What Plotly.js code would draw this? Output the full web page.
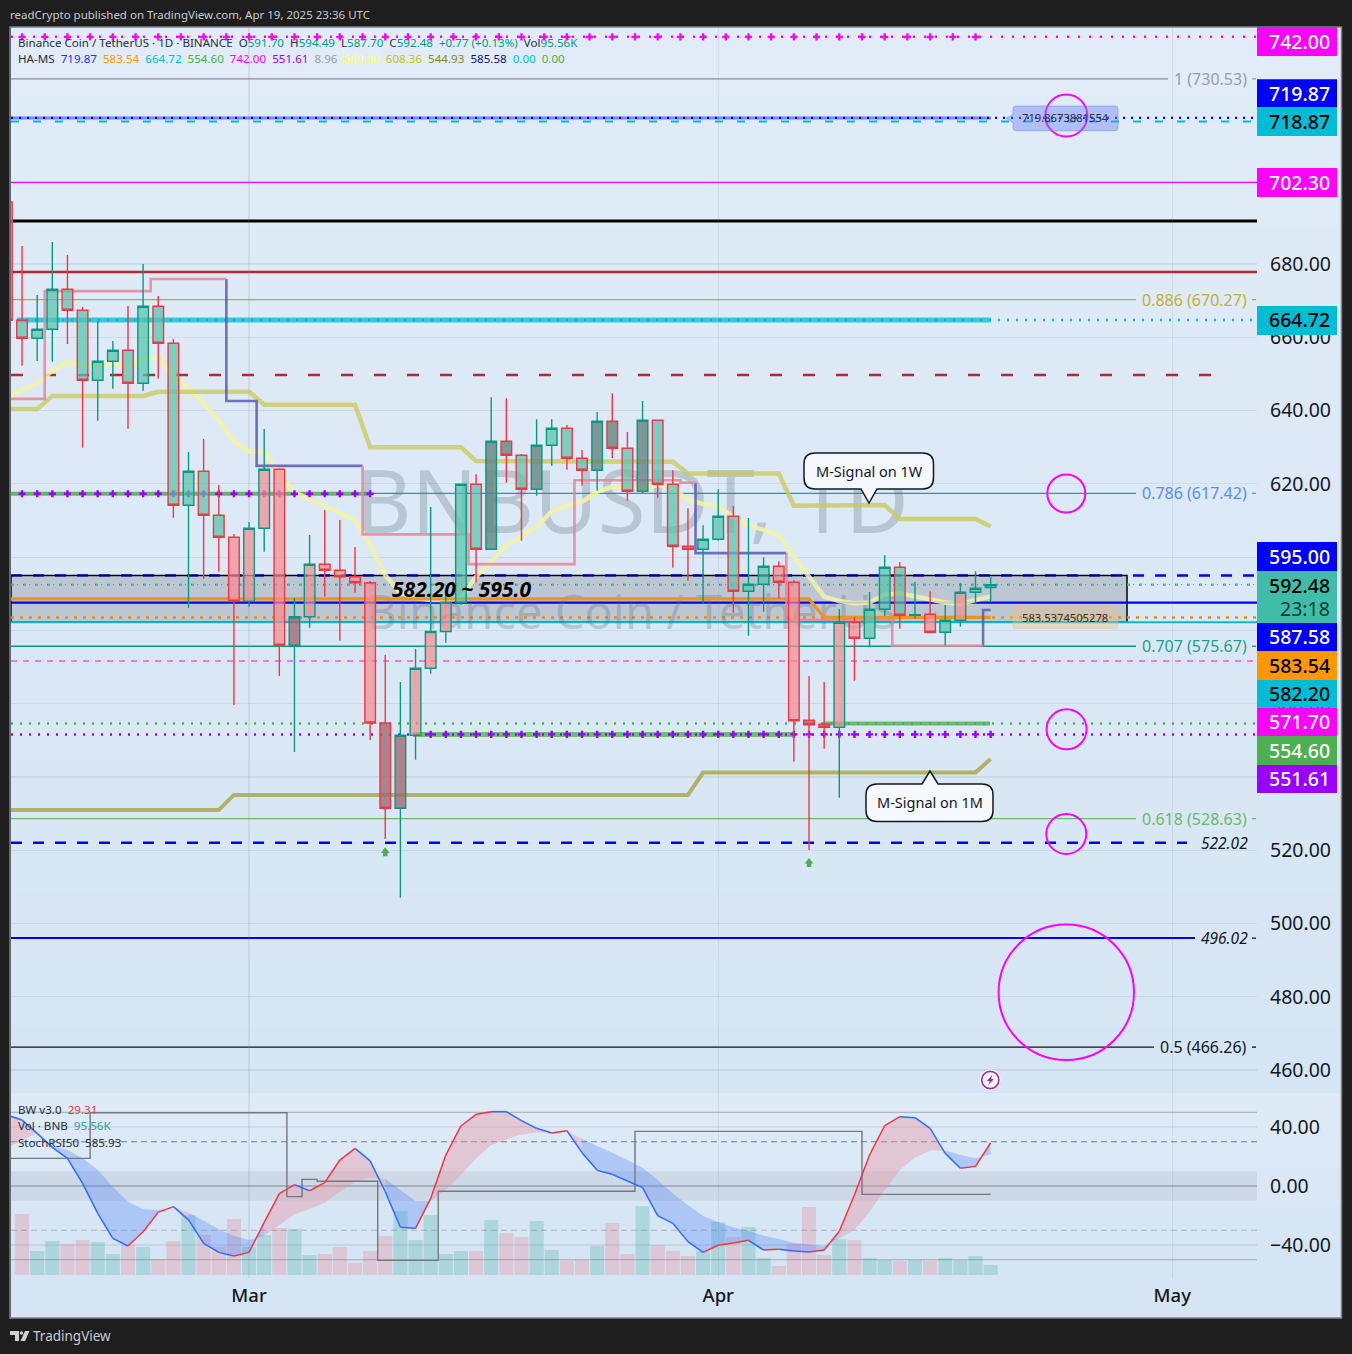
<!DOCTYPE html>
<html><head><meta charset="utf-8">
<script src="https://cdn.plot.ly/plotly-3.0.1.min.js"></script>
<style>html,body{margin:0;padding:0;background:#1e1e1e;}#c{width:1352px;height:1354px;}</style>
</head><body><div id="c"></div>
<script>
// ---------- data ----------
const dates=['2025-02-13','2025-02-14','2025-02-15','2025-02-16','2025-02-17','2025-02-18','2025-02-19','2025-02-20','2025-02-21','2025-02-22','2025-02-23','2025-02-24','2025-02-25','2025-02-26','2025-02-27','2025-02-28','2025-03-01','2025-03-02','2025-03-03','2025-03-04','2025-03-05','2025-03-06','2025-03-07','2025-03-08','2025-03-09','2025-03-10','2025-03-11','2025-03-12','2025-03-13','2025-03-14','2025-03-15','2025-03-16','2025-03-17','2025-03-18','2025-03-19','2025-03-20','2025-03-21','2025-03-22','2025-03-23','2025-03-24','2025-03-25','2025-03-26','2025-03-27','2025-03-28','2025-03-29','2025-03-30','2025-03-31','2025-04-01','2025-04-02','2025-04-03','2025-04-04','2025-04-05','2025-04-06','2025-04-07','2025-04-08','2025-04-09','2025-04-10','2025-04-11','2025-04-12','2025-04-13','2025-04-14','2025-04-15','2025-04-16','2025-04-17','2025-04-18','2025-04-19'];
const open=[696.92,664.63,659.72,662.18,673.10,667.36,648.26,653.44,656.45,647.44,668.46,658.36,614.14,623.42,611.41,605.41,587.94,607.87,623.97,575.93,583.74,598.04,596.40,594.65,593.02,554.73,531.44,551.37,569.65,579.70,587.67,619.87,602.13,631.61,627.79,618.51,630.52,635.16,626.97,623.70,637.07,629.70,617.96,637.34,619.87,602.95,602.13,604.86,611.14,590.67,592.58,597.49,593.13,555.46,554.37,553.55,582.21,577.84,585.76,597.22,584.12,584.39,579.48,582.75,590.40,591.70];
const close=[664.63,659.72,662.18,673.10,667.36,648.26,653.44,656.45,647.44,668.46,658.36,614.14,623.42,611.41,605.41,587.94,607.87,623.97,575.93,583.74,598.04,596.40,594.65,593.02,554.73,531.44,551.37,569.65,579.70,587.67,619.87,602.13,631.61,627.79,618.51,630.52,635.16,626.97,623.70,637.07,629.70,617.96,637.34,619.87,602.95,602.13,604.86,611.14,590.67,592.58,597.49,593.13,555.35,554.26,553.55,582.21,577.84,585.76,597.22,584.12,584.31,579.48,582.75,590.40,591.49,592.48];
const high=[700,684.91,671.54,686,682.46,668.26,664.44,658.98,668.54,680,671.27,659.53,628.69,632.24,619.68,606.31,609.58,634.97,624.24,588.84,606.04,612.86,610.13,602.76,593.48,573.29,565.92,574.92,613.68,589.93,620,622.6,643.62,643.35,628.14,637.61,637.61,636.06,629.24,639.61,644.71,634.15,642.61,637.5,623.7,613.32,608.68,618.51,613.95,610.68,599.95,598.86,593.67,567.55,565.92,585.84,583.57,590.48,600.5,598.67,593.21,590.67,586.93,592.85,596.13,594.49];
const low=[660,652.24,653.53,653.34,658.17,629.86,637.23,645.97,635.05,645.42,648.69,610.76,586.2,594.11,596.02,559.64,586.47,601.48,567.55,546.81,580.73,589.2,577.19,590.29,550.09,523.07,507.04,544.71,568.18,576.64,587,593.02,602.13,620.31,604.48,616.76,624.95,623.86,619.49,618.13,627.05,615.4,617.42,616.22,597.11,593.56,587.39,604.48,584.83,578.55,585.1,588.65,544.16,520.06,547.71,534.34,566.27,575.74,583.93,580.46,583.19,579.48,575.93,581.01,587.39,587.70];
// body fill class of each candle: T teal, P pink, D dark teal, M dark pink
const fillClass='PTTTTTTTTTTTTTTPPPPMPPPPPMMPPPTTDDTDTTTDDTDTTPTTTTTPPMPPPTTTTPTPTT'.split('');
const mSignal1D=[643.3,645.6,647.4,650.9,653.2,652.5,652.6,652.9,652.2,654.3,654.5,649.2,646.1,642,637.4,631.5,628.8,628.8,622.9,617.7,615.8,614,612,610.1,603.3,595.1,590.1,588.8,588.3,588.3,588.8,594.7,598.7,603.3,605.6,608.3,612.4,614.2,615.1,617.9,619.2,619,618.8,619.7,618.8,615.6,614.5,613.9,611,608.8,607.4,606,600.1,594.7,589.2,588,587.4,587.6,589.7,590.1,589.2,588.3,587.6,587.2,588.3,589.3];
const mSignal1W=[640.4,640.4,640.4,644,644,644,644,644,644,644,645.1,645.1,645.1,645.1,645.1,645.1,645.1,641.6,641.6,641.6,641.6,641.6,641.6,641.6,630,630,630,630,630,630,630,626.2,626.2,626.2,626.2,626.2,626.2,626.2,626.2,626.2,626.2,626.2,626.2,626.2,626,622.8,622.8,622.8,622.8,622.8,622.8,622.8,614,614,614,614,614,614,614.2,610.4,610.4,610.4,610.4,610.4,610.4,608.36];
const mSignal1MDates=['2025-02-13','2025-02-27','2025-02-28','2025-03-30','2025-03-31','2025-04-18','2025-04-19'];
const mSignal1M=[531,531,535.1,535.1,541.2,541.2,544.93];
const orangeDates=['2025-02-13','2025-04-07','2025-04-08','2025-04-19'];
const orangeLevel=[588.6,588.6,583.54,583.54];
const haPinkX=['2025-02-13','2025-02-15 12:00','2025-02-22 12:00','2025-02-27 12:00',null,'2025-03-08 12:00','2025-03-08 12:00','2025-03-15 12:00','2025-03-22 12:00','2025-03-29 12:00','2025-03-30 12:00',null,'2025-04-05 12:00','2025-04-05 12:00','2025-04-12 12:00','2025-04-18 12:00'];
const haPinkY=[643.2,672.6,675.9,675.9,null,624.9,606.2,598.1,621,620.3,620.3,null,601.1,582.9,575.8,575.8];
const haBlueX=['2025-02-27 12:00','2025-02-27 12:00','2025-03-01 12:00','2025-03-08 12:00',null,'2025-03-30 12:00','2025-03-30 12:00','2025-04-05 12:00',null,'2025-04-18 12:00','2025-04-18 12:00','2025-04-19'];
const haBlueY=[675.9,642.6,624.9,624.9,null,620.3,601.1,601.1,null,575.8,585.58,585.58];
const bw=[48.1,44.7,35.7,26.2,18.8,1.8,-18.5,-35.5,-40.7,-31,-17.9,-14,-23,-38.9,-45,-47.5,-45,-24.6,-5.2,.9,-3.2,2.3,17.6,25.5,17,-3.9,-28,-28.7,-8.4,21,40.7,48.6,50.4,50.4,44.3,39.1,35.9,37.5,22.6,10.6,7.9,3.4,-1.1,-20.1,-25.3,-37.7,-45,-40.2,-38.7,-36.8,-43.4,-42.95,-44.1,-44.8,-43.4,-30.7,-6.1,21,40.9,47,46.3,39.1,22.1,12,13.3,29.31];
const bwSignal=[25.5,31.2,35.7,27.1,24.4,18.8,10.8,-.5,-10.6,-15.8,-16.3,-14.5,-17.9,-23.5,-29.4,-33.7,-36.6,-33.7,-26.4,-19.2,-15.6,-11.3,-3.9,2.9,5.6,4.7,-2.7,-10.2,-10.2,-2.7,7.4,18.8,27.8,31.6,35,36.2,35.9,36.8,32.1,27.1,22.6,17.6,12.4,4,-5,-12.9,-20.3,-24.6,-28,-30.5,-33.7,-35.9,-38.4,-39.6,-40.7,-35.5,-29.8,-17.4,-2.7,10.8,19.2,24,24,21,18.8,21.5];
const volume=[0,583,229,325,296,334,315,201,287,268,153,325,573,382,268,535,268,382,449,440,191,201,268,115,229,373,612,334,573,201,229,229,526,401,363,516,239,134,143,277,497,201,659,287,229,182,229,506,363,459,162,86,296,650,191,344,334,162,143,134,143,134,162,143,182,95.56];
const volumeDir='PPTTPPTTPTPPTPPPTTPTTPPPPPTTTTTPTPPTTPPTPPTPPPTTPTTPPPPTPTTPTPTTTT'.split('');
const stochX=['2025-02-13','2025-02-18 12:00','2025-03-03 12:00','2025-03-04 12:00','2025-03-05 12:00','2025-03-09 12:00','2025-03-13 12:00','2025-03-26 12:00','2025-04-10 12:00','2025-04-19'];
const stochY=[18.75,49.7,-7.2,4.5,3.2,-50.4,-3.6,37,-5.7,-5.7];
const signalArrowDates=['2025-03-10','2025-04-07'];
const signalArrowHeads=[519.79,516.87];
const signalArrowStems=[518.97,516.05];
const priceTicks=[460,480,500,520,540,560,580,600,620,640,660,680];
const oscTicks=[-40,0,40];
const oscTickText=['\u221240.00','0.00','40.00'];
const monthTicks=['2025-03-01','2025-04-01','2025-05-01'];
const monthText=['Mar','Apr','May'];
const fibPrices=[730.53,670.27,617.42,575.67,528.63,466.26];
const fibText=['1 (730.53)','0.886 (670.27)','0.786 (617.42)','0.707 (575.67)','0.618 (528.63)','0.5 (466.26)'];
const boxLow=582.20, boxHigh=595.00;
const priceTags=['742.00','719.87','718.87','702.30','664.72','595.00','587.58','583.54','582.20','571.70','554.60','551.61'];

// ---------- pixel helpers for page furniture ----------
const X0=11,X1=1257,Y0=27,Y1=1278,SPLIT=1093;
const PX=x=>(x-X0)/(X1-X0), PY=y=>(Y1-y)/(Y1-Y0);
const P=(x,y)=>PX(x).toFixed(5)+','+PY(y).toFixed(5);
const shapes=[],ann=[];
function mix(a,b,t){return 'rgb('+a.map((v,i)=>Math.round(v+(b[i]-v)*t)).join(',')+')';}
function paperRect(x0,y0,x1,y1,fill,layer,line){shapes.push({type:'rect',xref:'paper',yref:'paper',x0:PX(x0),x1:PX(x1),y0:PY(y0),y1:PY(y1),fillcolor:fill,line:line||{width:0},layer:layer||'below'});}
// background gradient
const topC=[225,236,248],botC=[214,229,243],lowTop=[224,235,247];
for(let i=0;i<16;i++){const a=Y0+(SPLIT-Y0)*i/16,b=Y0+(SPLIT-Y0)*(i+1)/16+1;paperRect(X0,a,1341,b,mix(topC,botC,(i+.5)/16));}
for(let i=0;i<6;i++){const a=SPLIT+(1318-SPLIT)*i/6,b=SPLIT+(1318-SPLIT)*(i+1)/6+1;paperRect(X0,a,1341,Math.min(b,1318),mix(lowTop,botC,Math.min(1,(i+.5)/4)));}
paperRect(10,27,1341.5,1318,'rgba(0,0,0,0)','above',{color:'#7d8188',width:1.5});

function hl(v,x0,x1,color,width,dash,yref){shapes.push({type:'line',xref:'paper',yref:yref||'y',x0:PX(x0),x1:PX(x1),y0:v,y1:v,line:{color,width,dash:dash||'solid'},layer:'below'});}
function pathShape(d,fill,line,layer){shapes.push({type:'path',xref:'paper',yref:'paper',path:d,fillcolor:fill,line:line||{width:0},layer:layer||'above'});}
function circle(cx,cy,r,color,w,fill){shapes.push({type:'circle',xref:'paper',yref:'paper',x0:PX(cx-r),x1:PX(cx+r),y0:PY(cy+r),y1:PY(cy-r),line:{color,width:w},fillcolor:fill||'rgba(0,0,0,0)',layer:'above'});}
function txt(x,y,t,size,color,anchor,extra){ann.push(Object.assign({xref:'paper',yref:'paper',x:PX(x),y:PY(y),text:t,showarrow:false,xanchor:anchor||'left',yanchor:'middle',font:{family:'Noto Sans',size,color},borderpad:0,borderwidth:0},extra||{}));}

// ---------- price levels ----------
hl(742,X0,X1,'#ff00ff',2.5,'2px,9px');
hl(fibPrices[0],X0,1168,'#8c8f98',1.2);
hl(719.87,X0,991,'rgba(80,100,240,.75)',3);
hl(719.87,X0,X1,'#0000ff',2.2,'2px,6px');
hl(718.87,X0,X1,'#00bcd4',2,'8px,14px');
hl(702.30,X0,X1,'#ff00ff',1.2);
hl(691.74,X0,X1,'#000000',3);
hl(677.8,X0,X1,'#b22833',2.5);
hl(fibPrices[1],X0,1136,'#b9a93a',1.2);
hl(664.72,17,991,'rgba(0,188,212,.75)',5);
hl(664.72,17,X1,'#00bcd4',2.5,'2px,7px');
hl(649.7,X0,1227,'#b22833',2.5,'12px,21px');
hl(fibPrices[2],370,1136,'#4a7fd0',1.2);
hl(617.3,X0,370,'rgba(76,175,80,.85)',4);
hl(boxHigh,X0,X1,'#0000ff',2.5,'11px,11px');
shapes.push({type:'rect',xref:'paper',yref:'y',x0:PX(X0),x1:PX(1127),y0:boxLow,y1:boxHigh,fillcolor:'rgba(120,123,134,.3)',line:{color:'#000',width:1.5},layer:'below'});
hl(592.48,X0,X1,'rgba(60,180,165,.8)',2.5,'3px,9px');
hl(592.48,X0,X1,'#f23645',1,'1px,5px');
hl(587.58,X0,X1,'#0000ff',2.2);
hl(583.54,X0,X1,'#f08c00',2.5,'3px,6px');
hl(boxLow,X0,X1,'#00bcd4',2);
hl(fibPrices[3],X0,1136,'#089981',1.4);
hl(571.65,X0,X1,'#ff00ff',1,'6px,6px');
hl(554.6,X0,X1,'#4caf50',2.5,'2px,7px');
hl(554.6,823,990,'rgba(76,175,80,.8)',4);
hl(551.61,413,795,'rgba(76,175,80,.75)',5);
hl(551.61,X0,X1,'#9900ff',2.5,'2px,7px');
hl(fibPrices[4],X0,1136,'#66bb6a',1.3);
hl(522.02,X0,1187,'#0000ff',2.5,'11px,11px');
hl(496.02,X0,1195,'#0000ff',2);
hl(fibPrices[5],X0,1154,'#111',1.2);
// short ticks by the labels
[[730.53,'#9a9da5'],[670.27,'#b9a93a'],[617.42,'#5b8def'],[575.67,'#089981'],[528.63,'#66bb6a'],[466.26,'#111'],[496.02,'#0000ff']].forEach(a=>hl(a[0],1252,1256,a[1],1.3));
// oscillator furniture
shapes.push({type:'rect',xref:'paper',yref:'y3',x0:0,x1:1,y0:-10,y1:10,fillcolor:'rgba(120,123,134,.13)',line:{width:0},layer:'below'});
hl(50,X0,X1,'#a2a7b0',1.2,'solid','y3');hl(-50,X0,X1,'#a2a7b0',1.2,'solid','y3');
hl(30,X0,X1,'#787b86',1.2,'6px,4px','y3');hl(-30,X0,X1,'#b0b4bb',1.2,'6px,4px','y3');
hl(0,X0,X1,'#9297a0',1.2,'solid','y3');

// fib + line labels
const fibCol=['#9a9da5','#c4b034','#5b8def','#1a9f8a','#66bb6a','#131722'];
const fibLy=fibPrices.map(p=>264+(680-p)*3.664);
fibText.forEach((t,i)=>txt(1247,fibLy[i],t,16,fibCol[i],'right'));
txt(1248,843,'<i>522.02</i>',15.5,'#131722','right');
txt(1248,938,'<i>496.02</i>',15.5,'#131722','right');

// circles
circle(1066.3,115.5,21,'#ff00ff',2);circle(1066.3,493.5,19,'#ff00ff',2);circle(1066.6,729.3,20,'#ff00ff',2);circle(1066.3,834,20,'#ff00ff',2);circle(1066.3,992.3,67.7,'#ff00ff',2);

// pills
function pill(x0,y0,x1,y1,tipX,fill,stroke){const r=3,m=(y0+y1)/2;
  return pathShape(`M${P(x0+r,y0)} L${P(x1-r,y0)} Q${P(x1,y0)} ${P(x1,y0+r)} L${P(x1,y1-r)} Q${P(x1,y1)} ${P(x1-r,y1)} L${P(x0+r,y1)} Q${P(x0,y1)} ${P(x0,y1-r)} L${P(x0,m+4)} L${P(tipX,m)} L${P(x0,m-4)} L${P(x0,y0+r)} Q${P(x0,y0)} ${P(x0+r,y0)} Z`,fill,{color:stroke,width:1});}
pill(1013,106,1118,130.7,1006,'rgba(110,130,245,.42)','rgba(110,130,245,.5)');
txt(1065,118,'719.8673881554',11.2,'#2a2e39','center');
pill(1013,605,1118,629,1007,'rgba(240,190,120,.38)','rgba(240,190,120,.3)');
txt(1065,617,'583.5374505278',11.2,'#2a2e39','center');

// callouts
function callout(x0,y0,x1,y1,cx,tipY,up){const r=11,b=8;let d;
  if(!up) d=`M${P(x0+r,y0)} L${P(x1-r,y0)} Q${P(x1,y0)} ${P(x1,y0+r)} L${P(x1,y1-r)} Q${P(x1,y1)} ${P(x1-r,y1)} L${P(cx+b,y1)} L${P(cx,tipY)} L${P(cx-b,y1)} L${P(x0+r,y1)} Q${P(x0,y1)} ${P(x0,y1-r)} L${P(x0,y0+r)} Q${P(x0,y0)} ${P(x0+r,y0)} Z`;
  else d=`M${P(x0+r,y0)} L${P(cx-b,y0)} L${P(cx,tipY)} L${P(cx+b,y0)} L${P(x1-r,y0)} Q${P(x1,y0)} ${P(x1,y0+r)} L${P(x1,y1-r)} Q${P(x1,y1)} ${P(x1-r,y1)} L${P(x0+r,y1)} Q${P(x0,y1)} ${P(x0,y1-r)} L${P(x0,y0+r)} Q${P(x0,y0)} ${P(x0+r,y0)} Z`;
  pathShape(d,'#f5f8fc',{color:'#131722',width:1.5});}
callout(804,453,933.5,489,869,503,false);
txt(869,470.5,'M-Signal on 1W',14.5,'#131722','center');
callout(866,784,993,821.5,930,771,true);
txt(930,801.5,'M-Signal on 1M',14.5,'#131722','center');

// right-hand coloured tags
const tagBox=[[27,56,'#ff00ff','#fff',41.5],[79.3,107,'#0000ff','#fff',93.5],[107,136,'#00bcd4','#000',121.5],[168,197,'#ff00ff','#fff',182.5],[306,335,'#00bcd4','#000',319.5],[542,571,'#0000ff','#fff',556.5],[623,651,'#0000ff','#fff',636.5],[651,680,'#ff9800','#000',665.5],[680,707.5,'#00bcd4','#000',693.5],[707.5,736,'#ff00ff','#fff',721.5],[736,765,'#4caf50','#fff',750.5],[765,793,'#9900ff','#fff',778.5]];
tagBox.forEach((b,i)=>{paperRect(1257,b[0],1337,b[1],b[2],'above');txt(1330,b[4],priceTags[i],19.5,b[3],'right',{font:{family:'Noto Sans',size:19.5,color:b[3],weight:500}});});
paperRect(1257,571,1337,623,'#40bda8','above');
txt(1330,585.5,'592.48',19.5,'#000','right',{font:{family:'Noto Sans',size:19.5,color:'#000',weight:500}});
txt(1330,608.5,'23:18',19.5,'#0e3b36','right');

// bold range text
txt(462,589,'<b><i>582.20 ~ 595.0</i></b>',21,'#000','center');

// lightning badge
circle(990.3,1080,10.5,'rgba(255,255,255,1)',0,'#fff');
circle(990.3,1080,8.6,'#9c27b0',1.6,'#fff');
pathShape(`M${P(992.5,1074.5)} L${P(986.8,1081)} L${P(989.8,1081)} L${P(988,1085.5)} L${P(993.8,1079)} L${P(990.8,1079)} Z`,'#9c27b0');

// legends
const teal='#089981';
const cs=(c,t)=>`<span style="color:${c}">${t}</span>`;
txt(18,42,`Binance Coin / TetherUS · 1D · BINANCE  O${cs(teal,'591.70')}  H${cs(teal,'594.49')}  L${cs(teal,'587.70')}  C${cs(teal,'592.48')}  ${cs(teal,'+0.77 (+0.13%)')}  Vol${cs(teal,'95.56K')}`,11.6,'#2a2e39');
txt(18,59,`HA-MS  ${cs('#2030ff','719.87')}  ${cs('#ff9800','583.54')}  ${cs('#00bcd4','664.72')}  ${cs('#4caf50','554.60')}  ${cs('#ff00ff','742.00')}  ${cs('#9900ff','551.61')}  ${cs('#9a9da5','8.96')}  ${cs('#ffff66','589.30')}  ${cs('#c8c020','608.36')}  ${cs('#8a8a10','544.93')}  ${cs('#101080','585.58')}  ${cs('#00bcd4','0.00')}  ${cs('#4caf50','0.00')}`,11.6,'#2a2e39');
txt(18,1109,`BW v3.0  ${cs('#f23645','29.31')}`,11.6,'#2a2e39');
txt(18,1125.5,`Vol · BNB  ${cs('#26a69a','95.56K')}`,11.6,'#2a2e39');
txt(18,1142.5,`StochRSI50  585.93`,11.6,'#2a2e39');
// page header / footer
txt(10,14.5,'readCrypto published on TradingView.com, Apr 19, 2025 23:36 UTC',11.5,'#c9cbd1');
txt(33,1336,'TradingView',13.5,'#c9cbd1');
pathShape(`M${P(10,1331)} L${P(19,1331)} L${P(19,1341)} L${P(15,1341)} L${P(15,1335)} L${P(10,1335)} Z`,'#d0d0d0');
circle(21.5,1333,1.7,'#d0d0d0',0,'#d0d0d0');
pathShape(`M${P(25,1331)} L${P(29.5,1331)} L${P(25,1341)} L${P(20.5,1341)} Z`,'#d0d0d0');

// ---------- traces ----------
const traces=[];
// volume under everything in the lower pane
traces.push({type:'bar',x:dates,y:volume,yaxis:'y2',xaxis:'x',marker:{color:volumeDir.map(c=>c==='T'?'rgba(8,153,129,.2)':'rgba(242,54,69,.17)'),line:{width:0}},hoverinfo:'skip'});
// watermark
traces.push({type:'scatter',mode:'text',x:['2025-03-26 07:00','2025-03-26 07:00'],y:[612.4,583.7],text:['BNBUSDT, 1D','Binance Coin / TetherUS'],textposition:'middle center',textfont:{family:'Noto Sans',size:[87,47],color:'rgba(95,108,125,.28)'},cliponaxis:false,hoverinfo:'skip',xaxis:'x',yaxis:'y'});
const lineTr=(x,y,color,width,extra)=>Object.assign({type:'scatter',mode:'lines',x,y,line:{color,width},xaxis:'x',yaxis:'y',hoverinfo:'skip',connectgaps:false},extra||{});
traces.push(lineTr(dates,mSignal1D,'rgba(243,243,165,.85)',4.5));
traces.push(lineTr(dates,mSignal1W,'rgba(200,200,85,.75)',4.5));
traces.push(lineTr(mSignal1MDates,mSignal1M,'rgba(172,172,90,.9)',4));
traces.push(lineTr(orangeDates,orangeLevel,'#e8961e',3.2));
traces.push(lineTr(haBlueX,haBlueY,'rgba(90,90,180,.85)',2.6,{line:{color:'rgba(90,90,180,.85)',width:2.6,shape:'hv'}}));
traces.push(lineTr(haPinkX,haPinkY,'rgba(232,132,150,.85)',2.6,{line:{color:'rgba(232,132,150,.85)',width:2.6,shape:'hv'}}));
// cross markers on level lines
const crossM=(c,s)=>({symbol:'cross',size:s,color:c,line:{width:0}});
const magentaX=[];for(let t=Date.UTC(2025,1,14);t<=Date.UTC(2025,3,19);t+=36*3600*1000)magentaX.push(new Date(t).toISOString().slice(0,16).replace('T',' '));
traces.push({type:'scatter',mode:'markers',x:magentaX,y:magentaX.map(()=>742),marker:crossM('#ff00ff',6),xaxis:'x',yaxis:'y',hoverinfo:'skip'});
traces.push({type:'scatter',mode:'markers',x:dates.slice(1,25),y:dates.slice(1,25).map(()=>617.3),marker:crossM('#9900ff',6),xaxis:'x',yaxis:'y',hoverinfo:'skip'});
traces.push({type:'scatter',mode:'markers',x:dates.slice(28),y:dates.slice(28).map(()=>551.61),marker:crossM('#9900ff',6),xaxis:'x',yaxis:'y',hoverinfo:'skip'});
traces.push({type:'scatter',mode:'markers',x:signalArrowDates,y:signalArrowHeads,marker:{symbol:'triangle-up',size:7.5,color:'#4caf50',line:{width:0}},xaxis:'x',yaxis:'y',hoverinfo:'skip'});
traces.push({type:'scatter',mode:'markers',x:signalArrowDates,y:signalArrowStems,marker:{symbol:'square',size:4.5,color:'#4caf50',line:{width:0}},xaxis:'x',yaxis:'y',hoverinfo:'skip'});
// candles, on an overlaying axis so they paint above the lines
const upC='#089981',dnC='#f23645';
const fills={T:'rgba(88,196,169,.72)',P:'rgba(243,141,146,.72)',D:'rgba(98,129,124,.78)',M:'rgba(157,103,112,.78)'};
Object.keys(fills).forEach(k=>{
  const idx=dates.map((d,i)=>i).filter(i=>fillClass[i]===k);
  traces.push({type:'candlestick',name:k,x:idx.map(i=>dates[i]),open:idx.map(i=>open[i]),high:idx.map(i=>high[i]),low:idx.map(i=>low[i]),close:idx.map(i=>close[i]),
    increasing:{line:{color:upC,width:1.4},fillcolor:fills[k]},decreasing:{line:{color:dnC,width:1.4},fillcolor:fills[k]},whiskerwidth:0,xaxis:'x',yaxis:'y4',hoverinfo:'skip',showlegend:false});
});
// oscillator: coloured fill between BW and its signal, line coloured by slope
const pinkX=[],pinkY=[],blueX=[],blueY=[],redLX=[],redLY=[],bluLX=[],bluLY=[];
let st=0;
function flush(st,en,up){const xs=dates.slice(st,en+1),a=bw.slice(st,en+1),b=bwSignal.slice(st,en+1).reverse();
  const px=xs.concat(xs.slice().reverse()),py=a.concat(b);
  const X=up?pinkX:blueX,Y=up?pinkY:blueY;px.forEach(v=>X.push(v));py.forEach(v=>Y.push(v));X.push(null);Y.push(null);}
for(let i=1;i<=bw.length;i++){
  if(i===bw.length||(bw[i]>=bwSignal[i])!==(bw[st]>=bwSignal[st])){flush(st,Math.min(i,bw.length-1),bw[st]>=bwSignal[st]);st=i;}
}
for(let i=1;i<bw.length;i++){const X=bw[i]>bw[i-1]?redLX:bluLX,Y=bw[i]>bw[i-1]?redLY:bluLY;X.push(dates[i-1],dates[i],null);Y.push(bw[i-1],bw[i],null);}
const osc=(o)=>Object.assign({type:'scatter',xaxis:'x',yaxis:'y3',hoverinfo:'skip'},o);
traces.push(osc({mode:'none',x:pinkX,y:pinkY,fill:'toself',fillcolor:'rgba(232,150,165,.42)'}));
traces.push(osc({mode:'none',x:blueX,y:blueY,fill:'toself',fillcolor:'rgba(80,130,250,.32)'}));
traces.push(osc({mode:'lines',x:stochX,y:stochY,line:{color:'#747880',width:1.4,shape:'hv'}}));
traces.push(osc({mode:'lines',x:bluLX,y:bluLY,line:{color:'#2f6bff',width:1.5}}));
traces.push(osc({mode:'lines',x:redLX,y:redLY,line:{color:'#f23645',width:1.5}}));

// ---------- layout ----------
const split=(Y1-SPLIT)/(Y1-Y0);
const priceRange=[680-(SPLIT-264)/3.664,680+(264-Y0)/3.664];
const gridC='rgba(110,130,155,.14)';
const layout={
  width:1352,height:1354,
  margin:{l:X0,r:1352-X1,t:Y0,b:1354-Y1,pad:0},
  paper_bgcolor:'#1e1e1e',plot_bgcolor:'rgba(0,0,0,0)',
  showlegend:false,dragmode:false,hovermode:false,bargap:.07,boxgap:.3,boxgroupgap:0,boxmode:'overlay',
  font:{family:'Noto Sans',color:'#131722'},
  xaxis:{type:'date',domain:[0,1],anchor:'y2',range:['2025-02-13 06:29','2025-05-06 14:24'],rangeslider:{visible:false},
    tickmode:'array',tickvals:monthTicks,ticktext:monthText,tickfont:{family:'Noto Sans',size:18.5,color:'#131722',weight:500},ticks:'',ticklabelstandoff:4,showgrid:true,gridcolor:gridC,gridwidth:1.2,zeroline:false,showline:false},
  yaxis:{domain:[split,1],anchor:'x',side:'right',range:priceRange,tickmode:'array',tickvals:priceTicks,ticktext:priceTicks.map(v=>v.toFixed(2)),tickfont:{family:'Noto Sans',size:19.5,color:'#131722'},ticks:'',ticklabelstandoff:12,showgrid:true,gridcolor:gridC,gridwidth:1.2,zeroline:false,showline:false},
  yaxis4:{overlaying:'y',side:'right',range:priceRange,visible:false,anchor:'x'},
  yaxis2:{domain:[0,split],anchor:'x',side:'right',range:[-28.7,1739],visible:false,showgrid:false,zeroline:false},
  yaxis3:{overlaying:'y2',anchor:'x',side:'right',range:[-(Y1-1186)/1.475,(1186-SPLIT)/1.475],tickmode:'array',tickvals:oscTicks,ticktext:oscTickText,tickfont:{family:'Noto Sans',size:19.5,color:'#131722'},ticks:'',ticklabelstandoff:12,showgrid:true,gridcolor:gridC,gridwidth:1.2,zeroline:false,showline:false},
  shapes,annotations:ann
};
Plotly.newPlot('c',traces,layout,{staticPlot:true,displayModeBar:false,responsive:false});
</script></body></html>
